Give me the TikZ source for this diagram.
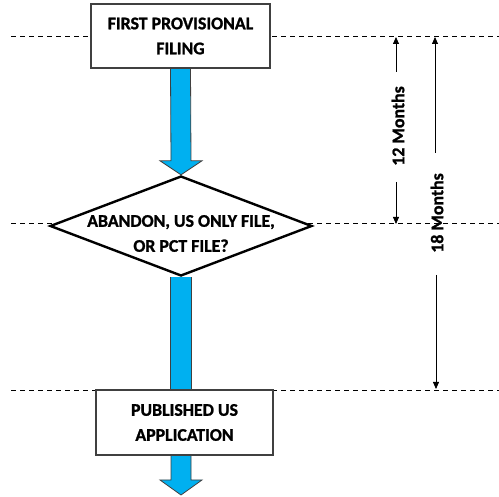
\documentclass[tikz,border=0pt]{standalone}
\usepackage{fontspec}
\setmainfont{Carlito}
\IfFontExistsTF{Carlito-Bold.ttf}{\newfontfamily\heavy{Carlito-Bold.ttf}[FakeBold=1.2]}{\newfontfamily\heavy{Carlito}[FakeBold=3]}
\usetikzlibrary{shapes.geometric,arrows.meta,calc}
\definecolor{arrowblue}{HTML}{00B0F0}
\definecolor{edgegray}{HTML}{404040}
\begin{document}
\begin{tikzpicture}[x=1pt,y=-1pt,
  lbl/.style={font=\heavy\fontsize{17.8}{25}\selectfont, align=center},
  stepbox/.style={lbl, draw=edgegray, line width=1.1pt, fill=white, inner sep=0pt},
  decision/.style={diamond, draw=black, line width=2.4pt, fill=white, inner sep=0pt, aspect=2.62},
  guide/.style={draw=black, line width=0.8pt, dash pattern=on 5pt off 4pt},
  bigarrow/.style={fill=arrowblue, draw=edgegray, line width=0.8pt},
  span/.style={draw=black, line width=0.8pt, -{Triangle[length=7pt,width=6pt]}},
  spanlbl/.style={font=\heavy\fontsize{17.8}{18}\selectfont, rotate=90}]
\useasboundingbox (0,0) rectangle (499,497);
% guide lines
\coordinate (g1l) at (11,36);   \coordinate (g1r) at (499,36);
\coordinate (g2l) at (11,223);  \coordinate (g2r) at (499,223);
\coordinate (g3l) at (11,390);  \coordinate (g3r) at (499,390);
\draw[guide] (g1l) -- (g1r);
\draw[guide] (g2l) -- (g2r);
\draw[guide] (g3l) -- (g3r);
% nodes
\node[stepbox, minimum width=179pt, minimum height=64pt] (first) at (180.5,36) {FIRST PROVISIONAL\\FILING};
\node[decision, minimum width=262pt, minimum height=100pt] (dec) at (181,226) {};
\node[lbl] (dectext) at ($(dec.center)+(0,7.5)$) {ABANDON, US ONLY FILE,\\OR PCT FILE?};
% arrow from diamond to published (behind box)
\coordinate (pubtop) at (181,391);
\draw[bigarrow] ($(dec.south)+(-10.5,0)$) -- ($(pubtop)+(-10.5,0)$) -- ($(pubtop)+(10.5,0)$) -- ($(dec.south)+(10.5,0)$);
\node[stepbox, minimum width=177pt, minimum height=65pt] (pub) at (184.5,422.5) {PUBLISHED US\\APPLICATION};
\coordinate (endtip) at (181,495);
% arrow from first to diamond
\draw[bigarrow] ($(first.south)+(-10,0)$) -- ($(dec.north)+(-10,-14)$) -- ($(dec.north)+(-21,-14)$) -- (dec.north) -- ($(dec.north)+(21,-14)$) -- ($(dec.north)+(10,-14)$) -- ($(first.south)+(10,0)$) -- cycle;
% arrow out of published
\draw[bigarrow] ($(pub.south -| endtip)+(-10,0)$) -- ($(endtip)+(-10,-15)$) -- ($(endtip)+(-21,-15)$) -- (endtip) -- ($(endtip)+(21,-15)$) -- ($(endtip)+(10,-15)$) -- ($(pub.south -| endtip)+(10,0)$) -- cycle;
% 12 months
\coordinate (a12top) at (396,37);
\coordinate (a12u) at (396,72);
\coordinate (a12d) at (396,182);
\coordinate (a12bot) at (396,224);
\node[spanlbl] (m12) at (398,126) {12 Months};
\draw[span] (a12u) -- (a12top);
\draw[span] (a12d) -- (a12bot);
% 18 months
\coordinate (a18top) at (435,37);
\coordinate (a18u) at (435,153);
\coordinate (a18d) at (436,275);
\coordinate (a18bot) at (436,389);
\node[spanlbl] (m18) at (437,213) {18 Months};
\draw[span] (a18u) -- (a18top);
\draw[span] (a18d) -- (a18bot);
\end{tikzpicture}
\end{document}
